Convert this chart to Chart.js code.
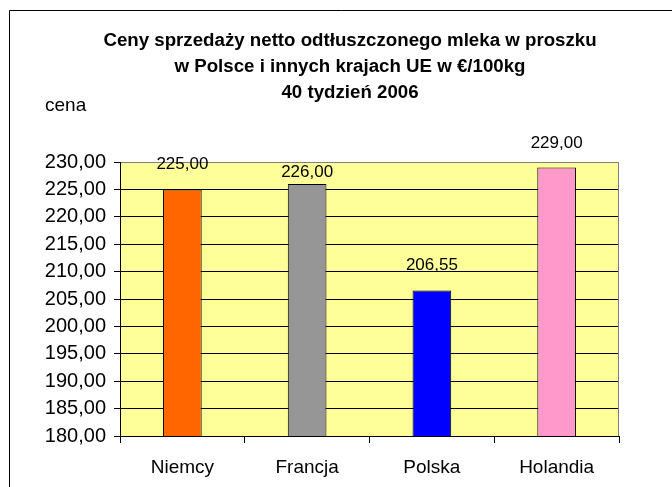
<!DOCTYPE html>
<html>
<head>
<meta charset="utf-8">
<script src="https://cdn.jsdelivr.net/npm/chart.js@4.4.0/dist/chart.umd.min.js"></script>
<style>
    body { margin: 0; background: #fff; }
    #wrap { width: 672px; height: 487px; }
</style>
</head>
<body>
<div id="wrap"><canvas id="chart"></canvas></div>
<script>
// chart data
const categories = ['Niemcy', 'Francja', 'Polska', 'Holandia']
const prices = [225.00, 226.00, 206.55, 229.00]
const barColors = ['#FF6600', '#969696', '#0000FF', '#FF99CC']
const yMin = 180
const yMax = 230
const yStep = 5
const titleLines = [
    'Ceny sprzedaży netto odtłuszczonego mleka w proszku',
    'w Polsce i innych krajach UE w €/100kg',
    '40 tydzień 2006'
]
const yAxisLabel = 'cena'

// Excel used a narrow face for the axis texts, use it if installed
function hasFont(name) {
    const c = document.createElement('canvas').getContext('2d')
    c.font = '40px monospace'
    const a = c.measureText('230,00 Polska').width
    c.font = `40px "${name}", monospace`
    return c.measureText('230,00 Polska').width !== a
}
const NARROW = hasFont('Liberation Sans Narrow')
const axisFamily = NARROW ? '"Liberation Sans Narrow", Arial' : 'Arial, "Liberation Sans"'
const axisSize = NARROW ? 22 : 19

function fmt(v) {
    return v.toFixed(2).replace('.', ',')
}

// frame, title and the "cena" caption
const decorPlugin = {
    id: 'decor',
    beforeDraw(chart) {
        const ctx = chart.ctx
        const a = chart.chartArea
        ctx.save()
        ctx.fillStyle = '#FFFF99'
        ctx.fillRect(a.left, a.top, a.right - a.left, a.bottom - a.top)
        ctx.strokeStyle = '#000'
        ctx.lineWidth = 1
        ctx.beginPath()
        ctx.moveTo(9.5, chart.height + 5)
        ctx.lineTo(9.5, 10.5)
        ctx.lineTo(chart.width + 5, 10.5)
        ctx.stroke()

        ctx.fillStyle = '#000'
        ctx.textAlign = 'center'
        ctx.textBaseline = 'alphabetic'
        ctx.font = 'bold 18.7px Arial, "Liberation Sans"'
        titleLines.forEach((line, i) => {
            ctx.fillText(line, 350, 46 + i * 26)
        })
        ctx.textAlign = 'left'
        ctx.font = `${axisSize}px ${axisFamily}`
        ctx.fillText(yAxisLabel, 45, 111)
        ctx.restore()
    },
    beforeDatasetsDraw(chart) {
        // gray border of the plot area on the right
        const ctx = chart.ctx
        const a = chart.chartArea
        ctx.save()
        ctx.strokeStyle = '#808080'
        ctx.lineWidth = 1
        ctx.beginPath()
        ctx.moveTo(Math.round(a.right) - 0.5, a.top)
        ctx.lineTo(Math.round(a.right) - 0.5, a.bottom)
        ctx.stroke()
        ctx.restore()
    }
}

// value labels above bars
const valueLabels = {
    id: 'valueLabels',
    afterDatasetsDraw(chart, args, opts) {
        const ctx = chart.ctx
        const meta = chart.getDatasetMeta(0)
        ctx.save()
        ctx.fillStyle = '#000'
        ctx.font = '17px Arial, "Liberation Sans"'
        ctx.textAlign = 'center'
        ctx.textBaseline = 'middle'
        meta.data.forEach((bar, i) => {
            const off = opts.offsets[i]
            ctx.fillText(fmt(chart.data.datasets[0].data[i]), bar.x, bar.y - off)
        })
        ctx.restore()
    }
}

const chart = new Chart(document.getElementById('chart'), {
    type: 'bar',
    data: {
        labels: categories,
        datasets: [{
            data: prices,
            backgroundColor: barColors,
            borderColor: '#000',
            borderWidth: 1,
            borderSkipped: false,
            barPercentage: 0.31,
            categoryPercentage: 1
        }]
    },
    options: {
        responsive: true,
        maintainAspectRatio: false,
        animation: false,
        layout: {
            padding: { top: 162, right: 53, bottom: 0, left: 0 }
        },
        plugins: {
            legend: { display: false },
            tooltip: { enabled: false },
            title: { display: false },
            valueLabels: { offsets: [25, 11.5, 25.5, 24.5] }
        },
        scales: {
            x: {
                afterFit(scale) { scale.height = 51 },
                grid: {
                    display: true,
                    drawOnChartArea: false,
                    drawTicks: true,
                    tickLength: 7,
                    color: '#000',
                    offset: true
                },
                border: { color: '#000' },
                ticks: {
                    color: '#000',
                    padding: 13,
                    font: { family: axisFamily, size: axisSize }
                }
            },
            y: {
                min: yMin,
                max: yMax,
                afterFit(scale) { scale.width = 120 },
                grid: {
                    color: ctx => (ctx.tick && ctx.tick.value === yMax) ? '#808080' : '#000',
                    tickColor: '#000',
                    tickLength: 6,
                    drawTicks: true
                },
                border: { color: '#000' },
                ticks: {
                    stepSize: yStep,
                    color: '#000',
                    padding: 8,
                    font: { family: axisFamily, size: axisSize + 1 },
                    callback: v => fmt(v)
                }
            }
        }
    },
    plugins: [decorPlugin, valueLabels]
})
</script>
</body>
</html>
